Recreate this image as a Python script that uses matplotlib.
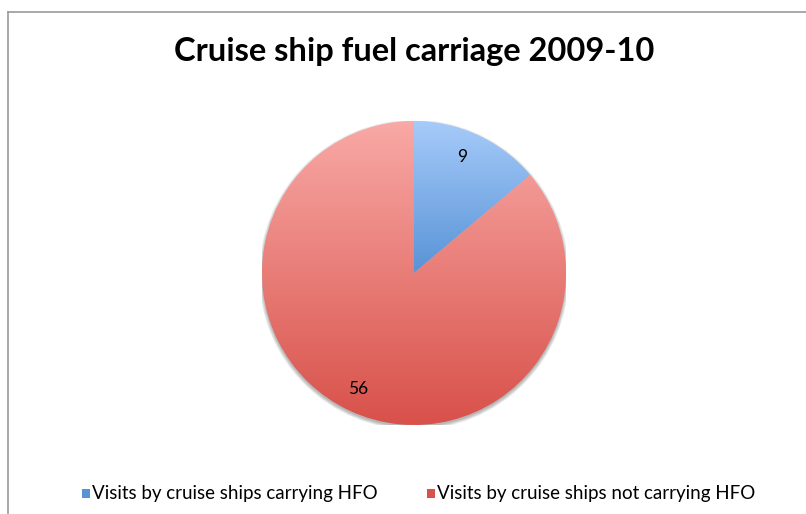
import numpy as np
import matplotlib.pyplot as plt
from matplotlib.colors import LinearSegmentedColormap
from matplotlib.lines import Line2D
from matplotlib.patches import Circle, Rectangle

# fuel carriage of cruise ship visits, 2009-10
labels = ["Visits by cruise ships carrying HFO", "Visits by cruise ships not carrying HFO"]
visits = [9, 56]
# (top, bottom) colours of the vertical gradient fill of each slice
fills = [("#a6cbfa", "#5893d6"), ("#f9a9a6", "#d8514a")]

plt.rcParams['font.family'] = ['Lato', 'DejaVu Sans']

fig = plt.figure(figsize=(8.06, 5.14), dpi=100)
W, H = 806, 514

# chart frame (only top and left edges are visible)
fig.add_artist(Line2D([8 / W, 1], [1 - 12 / H, 1 - 12 / H], color="#9a9a9a", lw=1.2))
fig.add_artist(Line2D([8 / W, 8 / W], [0, 1 - 12 / H], color="#9a9a9a", lw=1.2))

fig.text(414 / W, 1 - 52 / H, "Cruise ship fuel carriage 2009-10",
         ha="center", va="center", fontsize=23.5, fontweight="bold")

cx, cy, r = 414, 273, 152
ax = fig.add_axes([(cx - r) / W, (H - cy - r) / H, 2 * r / W, 2 * r / H])

# soft drop shadow under the pie
for k in range(6):
    ax.add_patch(Circle((0, -0.012), 1.0 + 0.004 * k, color="black", alpha=0.05, lw=0, zorder=0))

wedges, _ = ax.pie(visits, startangle=90, counterclock=False, radius=1,
                   wedgeprops=dict(linewidth=0, facecolor="none"))

for w, (top, bot) in zip(wedges, fills):
    ext = w.get_path().get_extents()
    cmap = LinearSegmentedColormap.from_list("g", [bot, top])
    grad = np.linspace(0, 1, 256).reshape(-1, 1)
    im = ax.imshow(grad, cmap=cmap, origin="lower", aspect="auto",
                   extent=[ext.x0, ext.x1, ext.y0, ext.y1], zorder=2)
    im.set_clip_path(w)

# value labels
ax.text(0.32, 0.76, str(visits[0]), ha="center", va="center", fontsize=12.5, zorder=5)
ax.text(-0.37, -0.76, str(visits[1]), ha="center", va="center", fontsize=12.5, zorder=5)

ax.set_xlim(-1, 1)
ax.set_ylim(-1, 1)
ax.set_aspect("auto")
ax.axis("off")

# legend
for (top, bot), lab, x in zip(fills, labels, [82, 427]):
    fig.add_artist(Rectangle((x / W, 1 - 498 / H), 8 / W, 9 / H, color=bot, lw=0))
    fig.text((x + 10) / W, 1 - 494 / H, lab, ha="left", va="center", fontsize=13.5)

fig.savefig("out.png", dpi=100)
